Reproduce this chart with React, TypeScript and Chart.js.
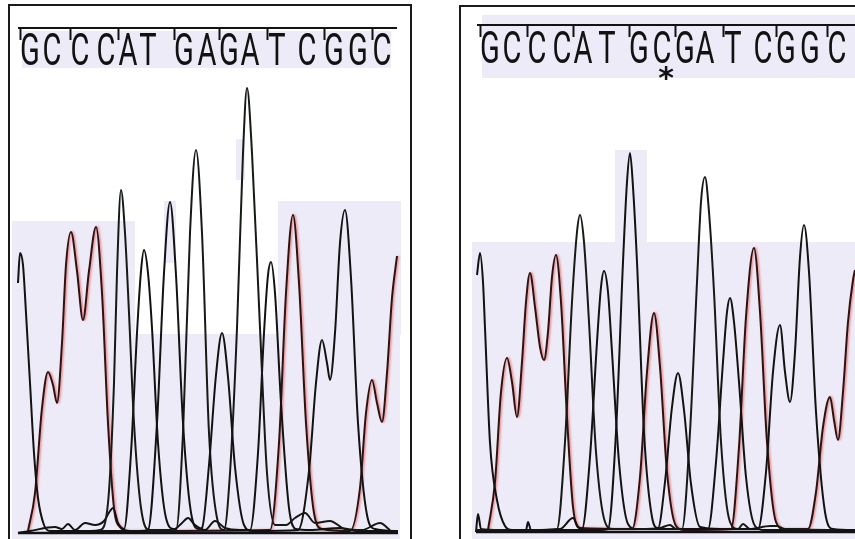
import React, { useEffect, useRef } from "react";
import { Chart, registerables } from "chart.js";

Chart.register(...registerables);

type P = [number, number];

// ---------- Left panel: reference trace "GCCCATGAGATCGGC" ----------
// x = scan position, y = signal intensity above baseline
const LEFT_SEQ = ["G", "C", "C", "C", "A", "T", "G", "A", "G", "A", "T", "C", "G", "G", "C"];
const LEFT_CALL_POS = [30, 52, 80, 106, 128, 148, 184, 207, 229, 250, 277, 307, 334, 358, 382];

const LEFT_G: P[] = [
  [18, 250], [20, 280], [23, 268], [26, 220], [30, 150], [34, 80], [38, 35], [44, 8], [50, 2], [90, 2], [140, 2],
  [148, 3], [157, 110], [164, 260], [170, 331], [176, 258], [183, 110], [192, 15], [199, 4],
  [202, 5], [209, 68], [216, 158], [222, 200], [228, 156], [235, 66], [244, 8], [252, 2],
  [298, 3], [309, 62], [316, 150], [322, 193], [327, 170], [330, 153], [335, 200], [340, 290], [345, 323],
  [351, 255], [358, 110], [367, 18], [375, 4], [398, 2],
];
const LEFT_C: P[] = [
  [28, 2], [35, 40], [42, 125], [48, 161], [53, 148], [57, 130], [62, 190], [66, 268], [71, 301], [77, 262],
  [83, 213], [89, 262], [96, 306], [102, 240], [108, 110], [114, 25], [120, 6], [130, 2],
  [270, 3], [279, 90], [286, 240], [293, 318], [299, 250], [306, 110], [314, 20], [322, 4],
  [350, 2], [360, 45], [366, 120], [372, 153], [377, 130], [382, 111], [387, 160], [392, 235], [397, 277],
];
const LEFT_A: P[] = [
  [90, 2], [100, 3], [108, 30], [114, 150], [117, 260], [121, 343], [125, 300], [129, 220], [134, 110],
  [141, 25], [150, 3], [176, 3], [183, 100], [190, 300], [196, 383], [202, 300], [209, 100], [217, 15],
  [224, 3], [230, 60], [237, 205], [243, 380], [247, 445], [252, 380], [260, 205], [267, 60], [275, 8],
  [286, 8], [295, 15], [305, 20], [315, 10], [330, 12], [345, 4], [362, 3], [380, 10], [390, 3],
];
const LEFT_T: P[] = [
  [18, 0], [30, 2], [55, 6], [62, 4], [68, 9], [75, 3], [85, 10], [95, 8], [104, 12], [110, 22], [113, 25],
  [118, 10], [124, 4], [131, 80], [137, 200], [141, 262], [144, 283], [148, 260], [152, 205], [158, 90],
  [166, 15], [174, 4], [182, 10], [188, 15], [195, 8], [205, 3], [215, 12], [225, 5], [240, 3], [250, 3],
  [258, 80], [264, 200], [268, 258], [271, 271], [275, 240], [281, 130], [289, 25], [296, 4], [310, 3],
  [340, 5], [358, 2], [398, 2],
];
const LEFT_BASE: P[] = [[18, 0], [398, 0]];

// ---------- Right panel: mutant trace "GCCCATGCGATCGGC" ----------
const RIGHT_SEQ = ["G", "C", "C", "C", "A", "T", "G", "C", "G", "A", "T", "C", "G", "G", "C"];
const RIGHT_CALL_POS = [490, 512, 537, 562, 583, 607, 639, 662, 685, 705, 733, 763, 786, 810, 837];
const RIGHT_MUTATION_INDEX = 7;

const RIGHT_G: P[] = [
  [477, 257], [480, 279], [483, 250], [485, 204], [490, 89], [497, 32], [505, 6], [512, 2], [600, 2],
  [608, 3], [616, 100], [623, 270], [627, 350], [630, 379], [633, 345], [637, 270], [644, 100], [652, 15],
  [658, 4], [665, 50], [672, 125], [678, 159], [684, 122], [691, 48], [700, 5], [720, 3],
  [758, 3], [766, 60], [773, 160], [780, 207], [785, 160], [790, 130], [795, 180], [800, 275], [804, 307],
  [809, 260], [816, 120], [825, 20], [833, 3], [855, 2],
];
const RIGHT_C: P[] = [
  [488, 2], [495, 50], [501, 140], [507, 174], [512, 150], [517, 115], [522, 170], [526, 230], [530, 259],
  [535, 225], [540, 185], [544, 172], [548, 200], [552, 255], [556, 277], [561, 230], [567, 115], [573, 25],
  [580, 4], [632, 3], [640, 55], [647, 160], [654, 219], [660, 165], [667, 60], [676, 6], [684, 2],
  [731, 3], [739, 85], [746, 215], [754, 284], [760, 220], [767, 90], [776, 10], [784, 3],
  [808, 3], [816, 40], [823, 105], [830, 135], [834, 112], [838, 92], [843, 140], [848, 210], [853, 252], [855, 262],
];
const RIGHT_A: P[] = [
  [476, 2], [540, 2], [557, 3], [565, 90], [572, 230], [577, 300], [580, 317], [584, 290], [589, 210],
  [596, 80], [605, 10], [612, 3], [640, 3], [660, 4], [670, 7], [676, 3], [682, 3], [690, 100], [697, 250],
  [701, 330], [705, 355], [709, 320], [714, 240], [721, 90], [730, 10], [738, 3], [743, 8], [750, 3],
  [770, 6], [777, 6], [785, 3], [855, 2],
];
const RIGHT_T: P[] = [
  [476, 0], [478, 18], [481, 3], [500, 2], [526, 2], [528, 10], [531, 2], [560, 3], [573, 14], [578, 5],
  [582, 3], [590, 75], [597, 190], [601, 245], [604, 261], [608, 240], [612, 180], [619, 70], [628, 8],
  [636, 3], [700, 3], [708, 3], [716, 70], [723, 170], [727, 220], [730, 234], [734, 210], [739, 150],
  [746, 55], [755, 6], [764, 2], [855, 2],
];
const RIGHT_BASE: P[] = [[476, 0], [855, 0]];

// ---------- styling ----------
const INK = "#121212";
const RED_INK = "#2e1212";
const PAPER = "rgb(236,235,247)";

const chromoPlugin = {
  id: "chromo",
  beforeDatasetsDraw(chart: any, _a: any, opts: any) {
    const ctx = chart.ctx;
    ctx.save();
    ctx.fillStyle = PAPER;
    for (const [x0, y0, x1, y1] of opts.patches) {
      ctx.fillRect(x0 - opts.offsetX, y0, x1 - x0, y1 - y0);
    }
    ctx.restore();
  },
  beforeDatasetDraw(chart: any, args: any) {
    const ds = chart.data.datasets[args.index];
    if (ds.glow) {
      chart.ctx.save();
      chart.ctx.shadowColor = ds.glow;
      chart.ctx.shadowBlur = 2;
      chart.ctx.shadowOffsetX = 1.5;
    }
  },
  afterDatasetDraw(chart: any, args: any) {
    const ds = chart.data.datasets[args.index];
    if (ds.glow) chart.ctx.restore();
  },
  afterDatasetsDraw(chart: any, _a: any, opts: any) {
    const ctx = chart.ctx;
    const xs = chart.scales.x;
    ctx.save();
    ctx.strokeStyle = INK;
    ctx.fillStyle = INK;
    ctx.lineWidth = 2;
    ctx.beginPath();
    ctx.moveTo(xs.getPixelForValue(opts.ruleFrom), opts.ruleY);
    ctx.lineTo(xs.getPixelForValue(opts.ruleTo), opts.ruleY);
    ctx.stroke();
    opts.pos.forEach((p: number, i: number) => {
      if (i % 2 === 0) {
        const tx = Math.round(xs.getPixelForValue(p) - 10) + 0.5;
        ctx.beginPath();
        ctx.moveTo(tx, opts.ruleY);
        ctx.lineTo(tx, opts.ruleY + 12);
        ctx.stroke();
      }
    });
    ctx.font = "400 44px Roboto, 'DejaVu Sans', sans-serif";
    ctx.textAlign = "center";
    ctx.textBaseline = "alphabetic";
    opts.seq.forEach((s: string, i: number) => {
      const cx = xs.getPixelForValue(opts.pos[i]);
      ctx.save();
      ctx.translate(cx, opts.letterBase);
      ctx.scale(0.66, 1);
      ctx.fillText(s, 0, 0);
      ctx.restore();
    });
    if (opts.star != null) {
      ctx.font = "bold 30px 'DejaVu Sans', sans-serif";
      ctx.fillText("*", xs.getPixelForValue(opts.pos[opts.star]) + 4, opts.starBase);
    }
    ctx.restore();
  },
};

function toXY(arr: P[]) {
  return arr.map(([x, y]) => ({ x, y }));
}

function makeSets(g: P[], c: P[], a: P[], t: P[], base: P[]) {
  const common = {
    showLine: true,
    pointRadius: 0,
    fill: false,
    cubicInterpolationMode: "monotone" as const,
    borderWidth: 2,
  };
  return [
    { ...common, label: "baseline", data: toXY(base), borderColor: INK, borderWidth: 2.6 },
    { ...common, label: "G", data: toXY(g), borderColor: INK },
    { ...common, label: "A", data: toXY(a), borderColor: "#151a15" },
    { ...common, label: "T", data: toXY(t), borderColor: INK },
    { ...common, label: "C", data: toXY(c), borderColor: RED_INK, glow: "rgba(235,130,130,0.9)" },
  ];
}

interface PanelProps {
  left: number;
  width: number;
  baseline: number;
  sets: any[];
  chromo: any;
}

function Panel({ left, width, baseline, sets, chromo }: PanelProps) {
  const ref = useRef<HTMLCanvasElement | null>(null);
  useEffect(() => {
    if (!ref.current) return;
    const chart = new Chart(ref.current, {
      type: "line",
      data: { datasets: sets },
      options: {
        responsive: false,
        animation: false,
        parsing: false as any,
        layout: { padding: 0 },
        scales: {
          x: { type: "linear", min: left, max: left + width, display: false },
          y: { type: "linear", min: baseline - 539, max: baseline, display: false },
        },
        plugins: {
          legend: { display: false },
          tooltip: { enabled: false },
          chromo: { ...chromo, offsetX: left },
        } as any,
      },
      plugins: [chromoPlugin as any],
    });
    return () => chart.destroy();
  }, []);
  return (
    <canvas
      ref={ref}
      width={width}
      height={539}
      style={{ position: "absolute", left, top: 0, width, height: 539 }}
    />
  );
}

export default function App() {
  const leftSets = makeSets(LEFT_G, LEFT_C, LEFT_A, LEFT_T, LEFT_BASE);
  const rightSets = makeSets(RIGHT_G, RIGHT_C, RIGHT_A, RIGHT_T, RIGHT_BASE);
  return (
    <div
      style={{
        position: "fixed",
        left: 0,
        top: 0,
        width: 855,
        height: 539,
        overflow: "hidden",
        background: "#fff",
      }}
    >
      <Panel
        left={0}
        width={420}
        baseline={533}
        sets={leftSets}
        chromo={{
          seq: LEFT_SEQ,
          pos: LEFT_CALL_POS,
          ruleY: 28,
          ruleFrom: 18,
          ruleTo: 397,
          letterBase: 65,
          star: null,
          patches: [
            [22, 31, 391, 68],
            [12, 221, 135, 539],
            [135, 334, 400, 539],
            [278, 201, 401, 335],
            [164, 201, 176, 263],
            [236, 139, 245, 180],
          ],
        }}
      />
      <Panel
        left={430}
        width={425}
        baseline={532}
        sets={rightSets}
        chromo={{
          seq: RIGHT_SEQ,
          pos: RIGHT_CALL_POS,
          ruleY: 25,
          ruleFrom: 477,
          ruleTo: 855,
          letterBase: 63,
          star: RIGHT_MUTATION_INDEX,
          starBase: 88,
          patches: [
            [482, 15, 855, 78],
            [472, 242, 855, 539],
            [615, 150, 647, 242],
          ],
        }}
      />
      <div
        style={{
          position: "absolute",
          left: 8,
          top: 4,
          width: 404,
          height: 600,
          boxSizing: "border-box",
          borderTop: "2px solid #1b1b1b",
          borderLeft: "2px solid #1b1b1b",
          borderRight: "2px solid #1b1b1b",
          pointerEvents: "none",
        }}
      />
      <div
        style={{
          position: "absolute",
          left: 459,
          top: 5,
          width: 500,
          height: 600,
          boxSizing: "border-box",
          borderTop: "2px solid #1b1b1b",
          borderLeft: "2px solid #1b1b1b",
          pointerEvents: "none",
        }}
      />
    </div>
  );
}
